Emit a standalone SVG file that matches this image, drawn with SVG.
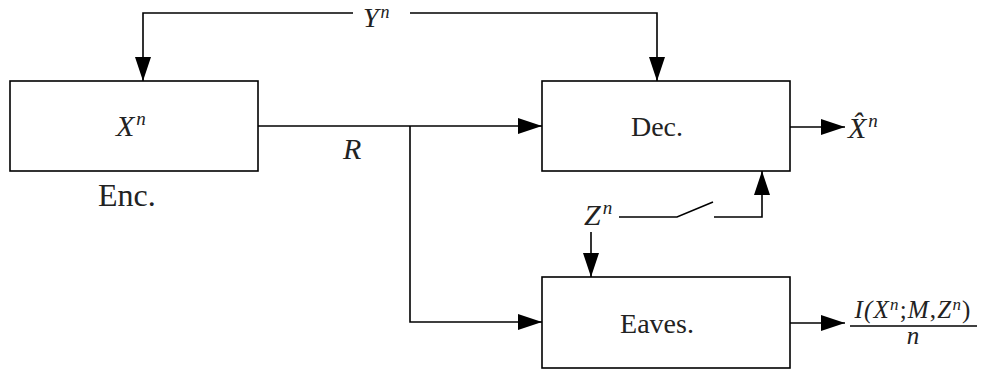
<svg xmlns="http://www.w3.org/2000/svg" width="982" height="375" viewBox="0 0 982 375">
<style>
.box{fill:#fff;stroke:#000;stroke-width:1.6}
.ln{fill:none;stroke:#000;stroke-width:1.6}
.rm{font-family:"Liberation Serif","DejaVu Serif",serif;font-size:28px;fill:#222}
.mi{font-family:"Liberation Serif","DejaVu Serif",serif;font-style:italic;font-size:30px;fill:#222}
.sup{font-size:19px}
.fr{font-family:"Liberation Serif","DejaVu Serif",serif;font-style:italic;font-size:25px;fill:#222}
</style>
<defs>
<marker id="ah" viewBox="0 0 24 16" refX="24" refY="8" markerWidth="24" markerHeight="16" markerUnits="userSpaceOnUse" orient="auto">
<path d="M0,0 L24,8 L0,16 z" fill="#000"/>
</marker>
</defs>
<g id="connectors">
<path class="ln" d="M353,13 H143 V81" marker-end="url(#ah)"/>
<path class="ln" d="M410,13 H657 V81" marker-end="url(#ah)"/>
<path class="ln" d="M258,126 H542" marker-end="url(#ah)"/>
<path class="ln" d="M410,126 V322 H542" marker-end="url(#ah)"/>
<path class="ln" d="M790,127 H845" marker-end="url(#ah)"/>
<path class="ln" d="M790,323 H845" marker-end="url(#ah)"/>
<path class="ln" d="M619,217 H677 L713,202"/>
<path class="ln" d="M714,217 H762 V171" marker-end="url(#ah)"/>
<path class="ln" d="M591,232 V277" marker-end="url(#ah)"/>
</g>
<g id="enc">
<rect class="box" x="10" y="81" width="248" height="90"/>
<text class="mi" x="116" y="136">X<tspan class="sup" dx="2" dy="-11">n</tspan></text>
<text class="rm" x="98" y="206" style="font-size:32px">Enc.</text>
</g>
<g id="dec">
<rect class="box" x="542" y="81" width="248" height="90"/>
<text class="rm" x="657" y="136" text-anchor="middle">Dec.</text>
</g>
<g id="eaves">
<rect class="box" x="542" y="277" width="248" height="91"/>
<text class="rm" x="657" y="333" text-anchor="middle">Eaves.</text>
</g>
<g id="labels">
<text class="mi" x="363" y="27" style="font-size:28px">Y<tspan class="sup" style="font-size:18px" dx="2" dy="-9">n</tspan></text>
<text class="mi" x="343" y="159">R</text>
<text class="mi" x="584" y="225">Z<tspan class="sup" dx="2" dy="-11">n</tspan></text>
<text class="mi" x="848" y="138">X̂<tspan class="sup" dx="2" dy="-11">n</tspan></text>
<text class="fr" x="913" y="318" text-anchor="middle" letter-spacing="1.2">I(X<tspan font-size="17" dy="-8">n</tspan><tspan dy="8" font-style="normal">;</tspan>M<tspan font-style="normal">,</tspan>Z<tspan font-size="17" dy="-8">n</tspan><tspan dy="8" font-style="normal">)</tspan></text>
<line class="ln" x1="850" y1="326" x2="977" y2="326"/>
<text class="fr" x="913" y="344" text-anchor="middle">n</text>
</g>
</svg>
